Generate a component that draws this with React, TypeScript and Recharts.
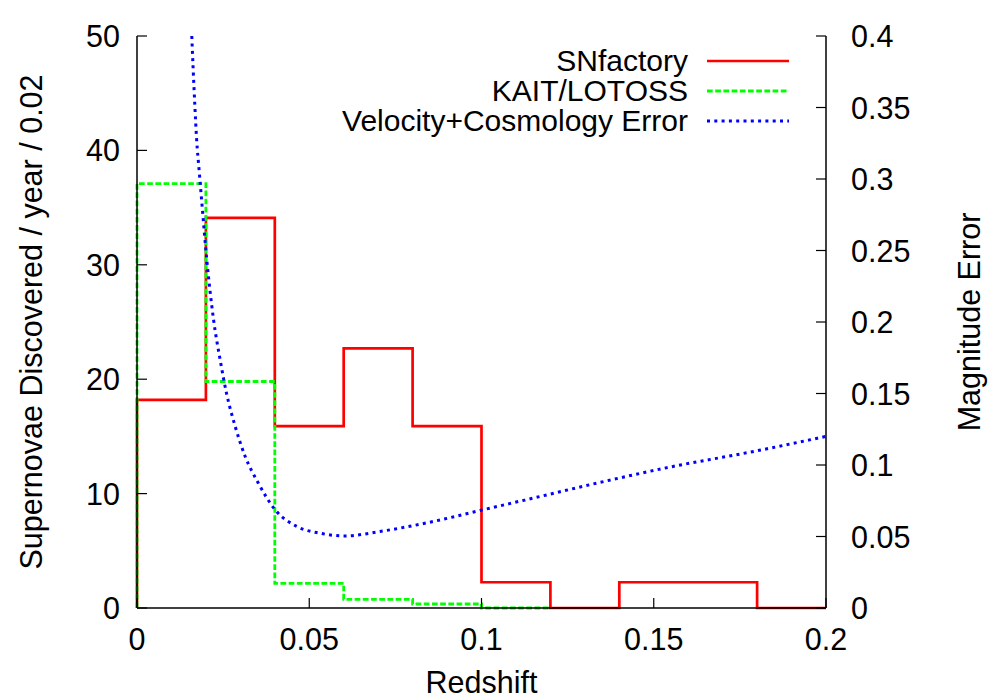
import React from 'react';
import { ComposedChart, Line, XAxis, YAxis, Legend, Label } from 'recharts';

// ---- data ----
const xTicks = [0, 0.05, 0.1, 0.15, 0.2];
const xTickLabels = ['0', '0.05', '0.1', '0.15', '0.2'];
const leftTicks = [0, 10, 20, 30, 40, 50];
const rightTicks = [0, 0.05, 0.1, 0.15, 0.2, 0.25, 0.3, 0.35, 0.4];
const rightTickLabels = ['0', '0.05', '0.1', '0.15', '0.2', '0.25', '0.3', '0.35', '0.4'];

// SNfactory histogram (bin starts, counts per 0.02 bin)
const snfZ = [0, 0, 0.02, 0.04, 0.06, 0.08, 0.1, 0.12, 0.14, 0.16, 0.18, 0.2];
const snfN = [0, 18.2, 34.1, 15.9, 22.7, 15.9, 2.25, 0, 2.25, 2.25, 0, 0];

// KAIT/LOTOSS histogram
const kaitZ = [0, 0, 0.02, 0.04, 0.06, 0.08, 0.1, 0.12];
const kaitN = [0, 37.1, 19.8, 2.16, 0.76, 0.35, 0, 0];

// Velocity + Cosmology magnitude error curve
const errZ = [0.0159, 0.0163, 0.0168, 0.0173, 0.018, 0.0188, 0.0202, 0.0222, 0.0241, 0.026, 0.0285, 0.0314, 0.0352, 0.0401, 0.0464, 0.0531, 0.0604, 0.0705, 0.085, 0.0996, 0.117, 0.1356, 0.1556, 0.178, 0.2];
const errM = [0.4, 0.377, 0.351, 0.328, 0.307, 0.284, 0.245, 0.202, 0.174, 0.15, 0.127, 0.106, 0.0874, 0.0687, 0.057, 0.0523, 0.0504, 0.0535, 0.06, 0.0682, 0.078, 0.0885, 0.099, 0.109, 0.12];

const seriesNames = ['SNfactory', 'KAIT/LOTOSS', 'Velocity+Cosmology Error'];
const seriesColors = ['#ff0000', '#00ff00', '#0000ff'];
const seriesDash = ['', '5.7 2.5', '3 4.3'];
const seriesWidth = [2.7, 2.8, 3];

const snfData = snfZ.map((z, i) => ({ z, v: snfN[i] }));
const kaitData = kaitZ.map((z, i) => ({ z, v: kaitN[i] }));
const errData = errZ.map((z, i) => ({ z, v: errM[i] }));

const FONT = '"Liberation Sans", Arial, Helvetica, sans-serif';
const FS = 30.5;
const LEG_FS = 30;
const TICK = 10;
const PLOT_TOP = 36;

const fmtX = (v: number) => {
  const i = xTicks.findIndex((t) => Math.abs(t - v) < 1e-9);
  return i >= 0 ? xTickLabels[i] : String(v);
};
const fmtR = (v: number) => {
  const i = rightTicks.findIndex((t) => Math.abs(t - v) < 1e-9);
  return i >= 0 ? rightTickLabels[i] : String(v);
};

const BottomTick = (p: any) => (
  <g>
    <line x1={p.x} y1={p.y} x2={p.x} y2={p.y - TICK} stroke="#000" strokeWidth={1.2} />
    <text x={p.x} y={p.y + 42} textAnchor="middle" fontSize={FS} fontFamily={FONT} fill="#000">
      {fmtX(p.payload.value)}
    </text>
  </g>
);

const TopTick = (p: any) => (
  <g>
    <line x1={p.x} y1={PLOT_TOP} x2={p.x} y2={PLOT_TOP + TICK} stroke="#000" strokeWidth={1.2} />
  </g>
);

const LeftTick = (p: any) => (
  <g>
    <line x1={p.x} y1={p.y} x2={p.x + TICK} y2={p.y} stroke="#000" strokeWidth={1.2} />
    <text x={p.x - 17} y={p.y + 11} textAnchor="end" fontSize={FS} fontFamily={FONT} fill="#000">
      {String(p.payload.value)}
    </text>
  </g>
);

const RightTick = (p: any) => (
  <g>
    <line x1={p.x} y1={p.y} x2={p.x - TICK} y2={p.y} stroke="#000" strokeWidth={1.2} />
    <text x={p.x + 25} y={p.y + 11} textAnchor="start" fontSize={FS} fontFamily={FONT} fill="#000">
      {fmtR(p.payload.value)}
    </text>
  </g>
);

const renderLegend = () => (
  <svg width={1000} height={150} style={{ display: 'block' }}>
    {seriesNames.map((name, i) => (
      <g key={name}>
        <text x={688} y={70.5 + i * 30} textAnchor="end" fontSize={LEG_FS} fontFamily={FONT} fill="#000">
          {name}
        </text>
        <line
          x1={707}
          y1={61 + i * 30}
          x2={789}
          y2={61 + i * 30}
          stroke={seriesColors[i]}
          strokeWidth={seriesWidth[i]}
          strokeDasharray={seriesDash[i] || undefined}
        />
      </g>
    ))}
  </svg>
);

export default function App() {
  return (
    <div style={{ position: 'absolute', left: 0, top: 0, width: 1000, height: 700, background: '#fff' }}>
      <ComposedChart width={1000} height={700} margin={{ top: PLOT_TOP, right: 0, bottom: 0, left: 0 }}>
        <XAxis
          xAxisId="bottom"
          dataKey="z"
          type="number"
          domain={[0, 0.2]}
          ticks={xTicks}
          interval={0}
          height={92}
          tickSize={0}
          tickMargin={0}
          tickLine={false}
          tick={BottomTick}
          axisLine={{ stroke: '#000', strokeWidth: 1.5 }}
        >
          <Label
            content={() => (
              <text x={481.5} y={693} textAnchor="middle" fontSize={FS} fontFamily={FONT} fill="#000">
                Redshift
              </text>
            )}
          />
        </XAxis>
        <XAxis
          xAxisId="top"
          orientation="top"
          dataKey="z"
          type="number"
          domain={[0, 0.2]}
          ticks={xTicks}
          interval={0}
          height={0}
          tickSize={0}
          tickMargin={0}
          tickLine={false}
          tick={TopTick}
          axisLine={{ stroke: '#000', strokeWidth: 1.5 }}
        />
        <YAxis
          yAxisId="left"
          type="number"
          domain={[0, 50]}
          ticks={leftTicks}
          interval={0}
          width={137}
          tickSize={0}
          tickMargin={0}
          tickLine={false}
          tick={LeftTick}
          axisLine={{ stroke: '#000', strokeWidth: 1.5 }}
        >
          <Label
            content={() => (
              <text
                x={42}
                y={322}
                transform="rotate(-90, 42, 322)"
                textAnchor="middle"
                fontSize={FS}
                fontFamily={FONT}
                fill="#000"
              >
                Supernovae Discovered / year / 0.02
              </text>
            )}
          />
        </YAxis>
        <YAxis
          yAxisId="right"
          orientation="right"
          type="number"
          domain={[0, 0.4]}
          ticks={rightTicks}
          interval={0}
          width={174}
          tickSize={0}
          tickMargin={0}
          tickLine={false}
          tick={RightTick}
          axisLine={{ stroke: '#000', strokeWidth: 1.5 }}
        >
          <Label
            content={() => (
              <text
                x={980}
                y={322}
                transform="rotate(-90, 980, 322)"
                textAnchor="middle"
                fontSize={FS}
                fontFamily={FONT}
                fill="#000"
              >
                Magnitude Error
              </text>
            )}
          />
        </YAxis>
        <Legend
          layout="horizontal"
          verticalAlign="middle"
          align="center"
          content={renderLegend}
          wrapperStyle={{ position: 'absolute', left: 0, top: 0, width: 1000, height: 150, pointerEvents: 'none' }}
        />
        <Line
          xAxisId="bottom"
          yAxisId="left"
          data={snfData}
          dataKey="v"
          name={seriesNames[0]}
          type="stepAfter"
          stroke={seriesColors[0]}
          strokeWidth={seriesWidth[0]}
          dot={false}
          activeDot={false}
          isAnimationActive={false}
        />
        <Line
          xAxisId="bottom"
          yAxisId="left"
          data={kaitData}
          dataKey="v"
          name={seriesNames[1]}
          type="stepAfter"
          stroke={seriesColors[1]}
          strokeWidth={seriesWidth[1]}
          strokeDasharray={seriesDash[1]}
          dot={false}
          activeDot={false}
          isAnimationActive={false}
        />
        <Line
          xAxisId="bottom"
          yAxisId="right"
          data={errData}
          dataKey="v"
          name={seriesNames[2]}
          type="monotone"
          stroke={seriesColors[2]}
          strokeWidth={seriesWidth[2]}
          strokeDasharray={seriesDash[2]}
          dot={false}
          activeDot={false}
          isAnimationActive={false}
        />
      </ComposedChart>
    </div>
  );
}
